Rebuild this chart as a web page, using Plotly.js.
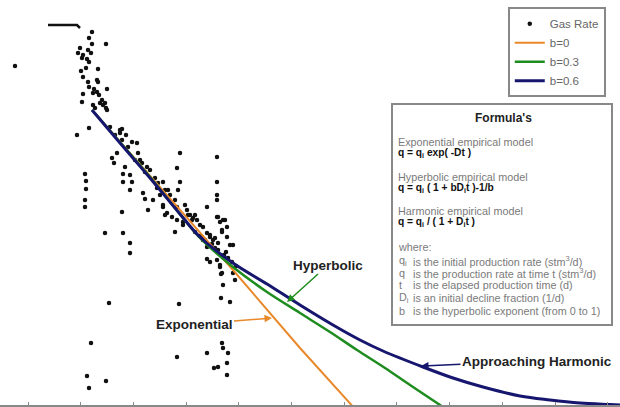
<!DOCTYPE html>
<html>
<head>
<meta charset="utf-8">
<script src="https://cdn.plot.ly/plotly-3.0.1.min.js"></script>
<style>
html,body{margin:0;padding:0;background:#fff;}
#chart{width:620px;height:407px;}
</style>
</head>
<body>
<div id="chart"></div>
<script>
const gasT = [15,92,89,92,106,80,88,78,83,91,82,87,89,86,81,98,83,97,98,88,89,107,94,93,97,99,102,100,103,106,107,83,82,93,95,89,77,122,126,120,105,110,120,122,132,137,128,117,138,142,147,130,123,112,114,132,123,130,125,85,86,86,85,85,122,105,123,130,143,145,148,153,157,160,163,163,167,172,177,178,180,177,180,177,183,175,187,190,193,197,200,203,207,207,210,213,217,217,217,217,218,223,227,222,227,233,203,207,130,109,91,87,89,106,179,177,207,210,217,220,221,223,221,230,233,235,222,223,228,207,227,218,214,227,163,165,183,192,202,210,217,220,225,222,218,215,230,220,222,115,140,150,155,168,185,195,
  195,200,205,212,218,224,228,232,236,226,215,209,135,145,158,165,175,188,170];
const gasQ = [339,373,367,361,361,357,355,352,350,352,347,346,343,337,334,336,328,325,323,323,318,316,316,312,313,310,305,302,300,297,295,311,303,300,297,277,270,276,270,272,302,278,275,265,263,262,258,252,252,242,238,230,231,247,242,223,223,215,238,231,224,216,205,198,193,172,172,162,212,206,195,205,217,210,223,198,192,188,198,215,223,237,252,185,180,173,195,190,187,185,180,178,198,172,168,165,248,223,210,205,188,185,178,173,168,160,165,158,152,102,62,29,17,24,101,48,146,143,145,138,131,120,107,103,132,125,62,57,52,52,42,38,37,30,200,190,183,185,168,170,188,183,185,175,162,157,160,140,132,270,245,235,227,215,200,190,
  173,169,165,161,155,150,147,143,139,153,167,159,245,233,222,215,205,190,210];
// early plateau of the rate record
const plateauT = [48,77,80];
const plateauQ = [380,380,377];
// b = 0 (exponential)
const expT = [92,233,300,356];
const expQ = [295,135,57,-5];
// b = 0.3 (hyperbolic)
const hypT = [92,150,200,233,267,300,330,357,385,410,437,450];
const hypQ = [295,228,167,138,113,92,73,55,37,20,2,-7];
// b = 0.6 (approaching harmonic)
const harT = [92,120,150,180,200,233,267,300,333,360,383,423,453,483,520,550,580,610,620];
const harQ = [295,262,227,191,168,142,121,100,80,65,54,38,27,18,9,5,2,0.5,0];

const legendNames = ['Gas Rate','b=0','b=0.3','b=0.6'];

const traces = [
  {x: gasT, y: gasQ, type:'scatter', mode:'markers', name: legendNames[0],
   marker:{color:'#111', size:4.5}},
  {x: expT, y: expQ, type:'scatter', mode:'lines', name: legendNames[1],
   line:{color:'#E8892B', width:2}},
  {x: hypT, y: hypQ, type:'scatter', mode:'lines', name: legendNames[2],
   line:{color:'#1E8C1E', width:2.5, shape:'spline', smoothing:0.8}},
  {x: harT, y: harQ, type:'scatter', mode:'lines', name: legendNames[3],
   line:{color:'#16166E', width:3, shape:'spline', smoothing:1}},
  {x: plateauT, y: plateauQ, type:'scatter', mode:'lines', showlegend:false,
   line:{color:'#111', width:2.5}}
];

const F = 'Liberation Sans, Arial, sans-serif';
const grey = '#7a7a7a';
const black = '#111';
function txt(x, y, text, size, color, anchor){
  return {x:x, y:y, xref:'x', yref:'y', text:text, showarrow:false,
    xanchor: anchor||'left', yanchor:'middle',
    font:{family:F, size:size, color:color}};
}
const GS = 10.8;
const FS = 10.2;

const annotations = [
  txt(503, 287, "<b>Formula's</b>", 12, '#222', 'center'),
  txt(396, 263, 'Exponential empirical model', GS, grey),
  txt(396, 252, '<b>q = q<sub>i</sub> exp( -Dt )</b>', FS, black),
  txt(396, 228, 'Hyperbolic empirical model', GS, grey),
  txt(396, 217, '<b>q = q<sub>i</sub> ( 1 + bD<sub>i</sub>t )-1/b</b>', FS, black),
  txt(396, 194, 'Harmonic empirical model', GS, grey),
  txt(396, 183, '<b>q = q<sub>i</sub> / ( 1 + D<sub>i</sub>t )</b>', FS, black),
  txt(396, 158, 'where:', GS, grey),
  txt(397, 144, 'q<sub>i</sub>', GS, grey),
  txt(411, 144, 'is the initial production rate (stm<sup>3</sup>/d)', GS, grey),
  txt(397, 132, 'q', GS, grey),
  txt(411, 132, 'is the production rate at time t (stm<sup>3</sup>/d)', GS, grey),
  txt(397, 120, 't', GS, grey),
  txt(411, 120, 'is the elapsed production time (d)', GS, grey),
  txt(397, 107, 'D<sub>i</sub>', GS, grey),
  txt(411, 107, 'is an initial decline fraction (1/d)', GS, grey),
  txt(397, 94, 'b', GS, grey),
  txt(411, 94, 'is the hyperbolic exponent (from 0 to 1)', GS, grey),
  {x:287, y:103, ax:328, ay:140, xref:'x', yref:'y', axref:'x', ayref:'y',
   text:'<b>Hyperbolic</b>', showarrow:true, arrowhead:2, arrowsize:1, arrowwidth:1.5,
   arrowcolor:'#1E8C1E', standoff:0, font:{family:F, size:13.5, color:'#222'}},
  {x:272, y:87, ax:194, ay:81, xref:'x', yref:'y', axref:'x', ayref:'y',
   text:'<b>Exponential</b>', showarrow:true, arrowhead:2, arrowsize:1, arrowwidth:1.5,
   arrowcolor:'#E8892B', standoff:0, font:{family:F, size:13.5, color:'#222'}},
  {x:421, y:39, ax:537, ay:44, xref:'x', yref:'y', axref:'x', ayref:'y',
   text:'<b>Approaching Harmonic</b>', showarrow:true, arrowhead:2, arrowsize:1, arrowwidth:1.5,
   arrowcolor:'#16166E', standoff:0, font:{family:F, size:13.5, color:'#222'}}
];

const layout = {
  width:620, height:407,
  margin:{l:0, r:0, t:0, b:2, pad:0},
  paper_bgcolor:'#fff', plot_bgcolor:'#fff',
  showlegend:true,
  xaxis:{range:[0,620], showgrid:false, zeroline:false, showticklabels:false,
    showline:true, linecolor:'#888', linewidth:1.5,
    ticks:'inside', ticklen:3, tickcolor:'#888', tick0:28, dtick:52.7},
  yaxis:{range:[0,405], showgrid:false, zeroline:false, showticklabels:false,
    showline:false, ticks:''},
  legend:{x:0.819, y:0.982, xanchor:'left', yanchor:'top',
    bgcolor:'#fff', bordercolor:'#888', borderwidth:2,
    font:{family:F, size:11.5, color:'#666'}, itemwidth:30, tracegroupgap:0},
  shapes:[{type:'rect', xref:'x', yref:'y', x0:392, x1:612, y0:80, y1:301,
    fillcolor:'#fff', line:{color:'#888', width:2}, layer:'above'}],
  annotations: annotations
};

Plotly.newPlot('chart', traces, layout, {staticPlot:true, displayModeBar:false});
</script>
</body>
</html>
